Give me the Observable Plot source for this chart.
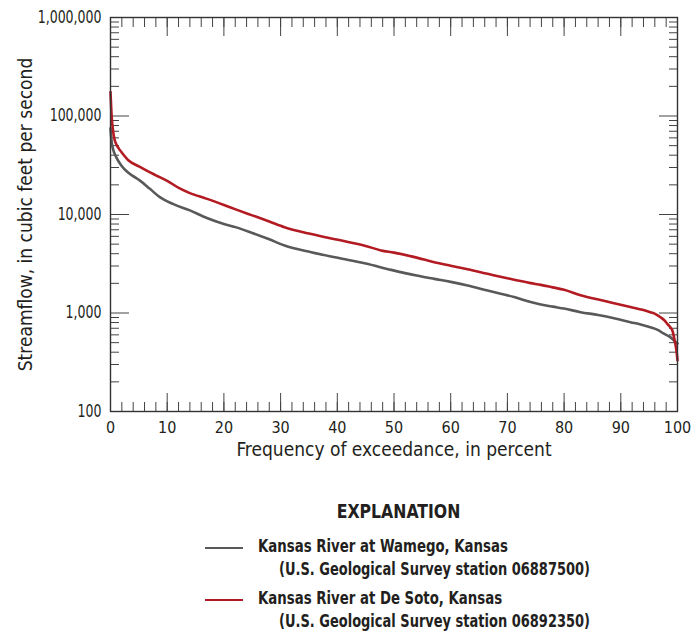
<!DOCTYPE html>
<html>
<head>
<meta charset="utf-8">
<script src="https://cdn.jsdelivr.net/npm/d3@7"></script>
<script src="https://cdn.jsdelivr.net/npm/@observablehq/plot@0.6"></script>
<style>
  body { margin: 0; background: #fff; }
  #wrap { position: relative; width: 697px; height: 632px; font-family: "Liberation Sans Narrow", "DejaVu Sans Condensed", "Roboto Condensed", sans-serif; color: #231f20; }
  .lg { position: absolute; white-space: nowrap; font-weight: bold; }
  .sw { position: absolute; height: 0; border-top: 2.5px solid; width: 38px; }
</style>
</head>
<body>
<div id="wrap"></div>
<script>
// Wamego (gray) flow-duration curve: percent exceedance vs streamflow (cfs)
const wamegoPct  = [0, 0.2, 0.5, 1, 1.9, 3, 4, 5.2, 7, 8.7, 11, 14, 17, 20, 22.2, 25, 28, 30.7, 35.4, 40.1, 45, 49.5, 54, 57.1, 60, 63, 66.5, 69, 71.2, 74.1, 75.9, 78, 80, 82.9, 86, 89, 91.7, 93.5, 95.2, 96.5, 97.6, 98.6, 99.4, 100];
const wamegoFlow = [75000, 55000, 45000, 38200, 31500, 27000, 24500, 22100, 18100, 15000, 12800, 11000, 9200, 8000, 7400, 6500, 5600, 4840, 4140, 3630, 3180, 2740, 2400, 2220, 2070, 1900, 1690, 1560, 1450, 1290, 1220, 1160, 1110, 1020, 955, 880, 807, 765, 718, 675, 616, 575, 525, 490];

// De Soto (red) flow-duration curve
const desotoPct  = [0, 0.1, 0.2, 0.4, 0.7, 1, 1.5, 2, 3.2, 5, 6.3, 8, 10, 12.2, 14, 16.9, 20, 22.2, 25, 28, 30.7, 35, 40.1, 45, 47.7, 50, 54, 57.1, 60, 63, 66.5, 70, 74.1, 75.9, 78, 80, 82.9, 87, 91.7, 94, 95.2, 96.2, 97, 97.7, 98.2, 98.7, 99.1, 99.5, 99.8, 100];
const desotoFlow = [175000, 130000, 100000, 75000, 58000, 52000, 46400, 42500, 35300, 30800, 28000, 25000, 22000, 18400, 16500, 14500, 12500, 11200, 9800, 8500, 7430, 6400, 5530, 4800, 4320, 4100, 3650, 3280, 3020, 2780, 2500, 2250, 2010, 1930, 1820, 1720, 1510, 1330, 1150, 1070, 1020, 970, 906, 840, 776, 720, 664, 525, 420, 330];

const seriesNames = ["Kansas River at Wamego, Kansas", "Kansas River at De Soto, Kansas"];
const seriesStations = ["(U.S. Geological Survey station 06887500)", "(U.S. Geological Survey station 06892350)"];
const seriesColors = ["#58595b", "#b31b23"];

const xMajor = [0, 10, 20, 30, 40, 50, 60, 70, 80, 90, 100];
const xMinor = d3.range(0, 101, 2);
const yMajor = [100, 1000, 10000, 100000, 1000000];
const yMinor = [];
for (const base of [100, 1000, 10000, 100000]) for (let m = 2; m <= 9; m++) yMinor.push(base * m);

const xLabel = "Frequency of exceedance, in percent";
const yLabel = "Streamflow, in cubic feet per second";
const legendTitle = "EXPLANATION";

const rows = [
  ...wamegoPct.map((p, i) => ({p, q: wamegoFlow[i], s: seriesNames[0]})),
  ...desotoPct.map((p, i) => ({p, q: desotoFlow[i], s: seriesNames[1]}))
];

const FONT = '"Liberation Sans Narrow", "DejaVu Sans Condensed", sans-serif';
const tickColor = "#444";
const ticksOnly = (axis, data, anchor, size) =>
  axis(data, {anchor, tickSize: size, stroke: tickColor, fill: "none", label: null});

const chart = Plot.plot({
  width: 697,
  height: 470,
  marginTop: 17,
  marginRight: 20,
  marginBottom: 59,
  marginLeft: 110,
  style: {fontFamily: FONT, fontSize: "17px", color: "#231f20", background: "#fff"},
  x: {domain: [0, 100], axis: null, label: null},
  y: {type: "log", domain: [100, 1000000], axis: null, label: null},
  color: {domain: seriesNames, range: seriesColors},
  marks: [
    ticksOnly(Plot.axisX, xMinor, "bottom", -9),
    ticksOnly(Plot.axisX, xMajor, "bottom", -18),
    ticksOnly(Plot.axisX, xMinor, "top", -9),
    ticksOnly(Plot.axisX, xMajor, "top", -18),
    ticksOnly(Plot.axisY, yMinor, "left", -9),
    ticksOnly(Plot.axisY, yMajor, "left", -19),
    ticksOnly(Plot.axisY, yMinor, "right", -9),
    ticksOnly(Plot.axisY, yMajor, "right", -19),
    Plot.axisX(xMajor, {anchor: "bottom", tickSize: 0, tickPadding: 10, fontSize: 16, fill: "#231f20", label: null, ariaLabel: "x-axis tick label"}),
    Plot.axisY(yMajor, {anchor: "left", tickSize: 0, tickPadding: 9, fontSize: 17, fill: "#231f20", tickFormat: d3.format(","), label: null}),
    Plot.text([xLabel], {frameAnchor: "bottom", lineAnchor: "middle", dy: 38, fontSize: 19, fill: "#231f20"}),
    Plot.text([yLabel], {frameAnchor: "left", textAnchor: "middle", lineAnchor: "middle", rotate: -90, dx: -85, fontSize: 19, fill: "#231f20"}),
    Plot.line(rows, {x: "p", y: "q", z: "s", stroke: "s", strokeWidth: 2.6, curve: "monotone-x"}),
    Plot.frame({stroke: "#333", strokeWidth: 1.4})
  ]
});

const wrap = document.getElementById("wrap");
wrap.appendChild(chart);

// condense the tick labels horizontally to mimic the narrow typeface of the original
chart.querySelectorAll('g[aria-label="x-axis tick label"] text, g[aria-label="y-axis tick label"] text').forEach(t => {
  const isX = t.closest('g[aria-label="x-axis tick label"]') != null;
  const len = t.getComputedTextLength();
  if (len > 0) {
    t.setAttribute("textLength", (len * (isX ? 0.8 : 0.82)).toFixed(2));
    t.setAttribute("lengthAdjust", "spacingAndGlyphs");
  }
});

function addText(txt, left, centerY, size, scale, center) {
  const d = document.createElement("div");
  d.className = "lg";
  d.textContent = txt;
  d.style.fontSize = size + "px";
  d.style.lineHeight = "20px";
  d.style.top = (centerY - 10) + "px";
  if (center) {
    d.style.left = (left - 348) + "px"; d.style.width = "697px"; d.style.textAlign = "center";
    d.style.transformOrigin = "center center";
  } else {
    d.style.left = left + "px";
    d.style.transformOrigin = "left center";
  }
  d.style.transform = `scaleX(${scale})`;
  wrap.appendChild(d);
}
function addSwatch(color, left, y) {
  const s = document.createElement("div");
  s.className = "sw";
  s.style.borderTopColor = color;
  s.style.left = left + "px";
  s.style.top = (y - 1) + "px";
  wrap.appendChild(s);
}
addText(legendTitle, 398, 511, 19, 0.92, true);
const legendY = [546, 598];
seriesNames.forEach((name, i) => {
  addSwatch(seriesColors[i], 205, legendY[i] + 2);
  addText(name, 258, legendY[i], 17, 0.87);
  addText(seriesStations[i], 279, legendY[i] + 23, 17, 0.85);
});
</script>
</body>
</html>
